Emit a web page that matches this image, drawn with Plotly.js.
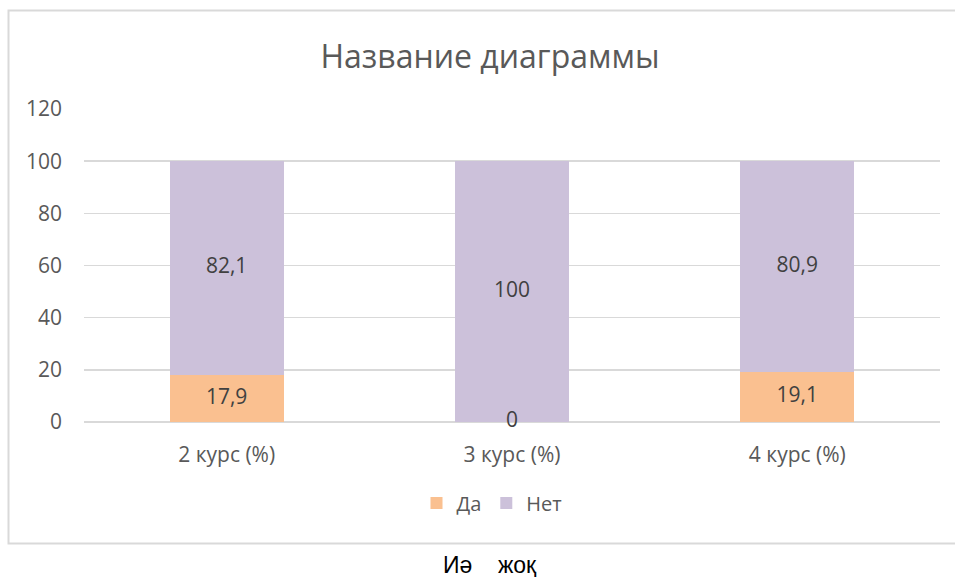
<!DOCTYPE html>
<html>
<head>
<meta charset="utf-8">
<script src="https://cdn.plot.ly/plotly-3.0.1.min.js"></script>
<style>html,body{margin:0;padding:0;background:#fff;}#chart{width:955px;height:577px;}</style>
</head>
<body>
<div id="chart"></div>
<script>
const categories = ["2 курс (%)", "3 курс (%)", "4 курс (%)"];
const daValues = [17.9, 0, 19.1];
const netValues = [82.1, 100, 80.9];
const seriesNames = ["Да", "Нет"];
const yTicks = [0, 20, 40, 60, 80, 100, 120];
const chartTitle = "Название диаграммы";
const caption = "Иә\u00a0\u00a0\u00a0\u00a0жоқ";

const fmt = v => String(v).replace('.', ',');
const labelFont = {family: "Open Sans, sans-serif", size: 21, color: "#404040"};

const W = 955, H = 577, L = 84, R = 15, T = 109, B = 155;
const pw = W - L - R, ph = H - T - B;
const px2x = p => (p - L) / pw;
const py2y = p => (H - B - p) / ph;

const traces = [
  {type: "bar", name: seriesNames[0], x: categories, y: daValues,
   marker: {color: "#FAC090"}, hoverinfo: "skip"},
  {type: "bar", name: seriesNames[1], x: categories, y: netValues,
   marker: {color: "#CCC1DA"}, hoverinfo: "skip"},
  {type: "scatter", mode: "text", x: categories, y: daValues.map(v => v / 2),
   text: daValues.map(fmt), textposition: "middle center", textfont: labelFont,
   showlegend: false, hoverinfo: "skip", cliponaxis: false},
  {type: "scatter", mode: "text", x: categories, y: netValues.map((v, i) => daValues[i] + v / 2),
   text: netValues.map(fmt), textposition: "middle center", textfont: labelFont,
   showlegend: false, hoverinfo: "skip", cliponaxis: false}
];

const layout = {
  width: W, height: H,
  margin: {l: L, r: R, t: T, b: B},
  paper_bgcolor: "#ffffff", plot_bgcolor: "#ffffff",
  barmode: "stack", bargap: 0.6,
  showlegend: true,
  title: {text: chartTitle, font: {family: "Open Sans, sans-serif", size: 32, color: "#595959"},
          x: px2x(490), xref: "paper", xanchor: "center", y: 1 - 57 / H, yref: "container", yanchor: "middle"},
  xaxis: {type: "category", showgrid: false, zeroline: false, showline: false, ticks: "",
          tickfont: {family: "Open Sans, sans-serif", size: 21, color: "#595959"}, ticklabelstandoff: 18,
          fixedrange: true},
  yaxis: {range: [0, 120], tickvals: yTicks, ticktext: yTicks.map(String), showgrid: true, gridcolor: "#d9d9d9", gridwidth: 1.5,
          zeroline: true, zerolinecolor: "#d9d9d9", zerolinewidth: 1.5, showline: false, ticks: "",
          tickfont: {family: "Open Sans, sans-serif", size: 21, color: "#595959"}, ticklabelstandoff: 21,
          fixedrange: true},
  legend: {orientation: "h", x: px2x(492), xanchor: "center", y: py2y(503), yanchor: "middle",
           traceorder: "normal", font: {family: "Open Sans, sans-serif", size: 20, color: "#595959"},
           itemwidth: 30},
  shapes: [{type: "rect", xref: "paper", yref: "paper", x0: px2x(8.5), x1: px2x(965), y0: py2y(543.5), y1: py2y(10.5),
            line: {color: "#d9d9d9", width: 2}, fillcolor: "rgba(0,0,0,0)", layer: "below"}],
  annotations: [{text: caption, xref: "paper", yref: "paper", x: px2x(490), y: py2y(565), xanchor: "center", yanchor: "middle",
                 showarrow: false, font: {family: "Liberation Sans, Arial, sans-serif", size: 23, color: "#000000"}}]
};

Plotly.newPlot("chart", traces, layout, {displayModeBar: false, staticPlot: true});
</script>
</body>
</html>
